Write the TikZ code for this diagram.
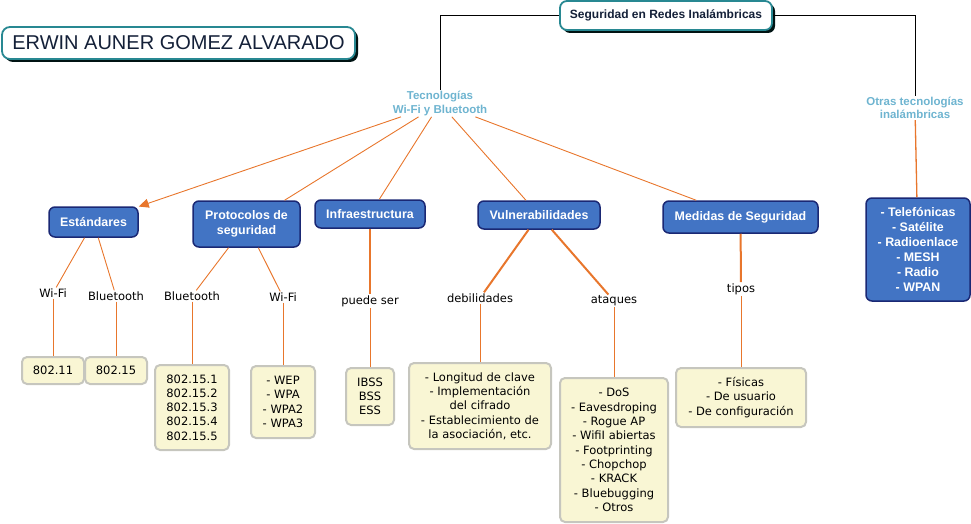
\documentclass[tikz,border=0pt]{standalone}
\usepackage{fontspec}
\setmainfont{Liberation Sans}
\newfontfamily\verd{DejaVu Sans}
\usetikzlibrary{arrows.meta,shadows}
\definecolor{naranja}{RGB}{232,118,44}
\definecolor{azul}{RGB}{66,116,196}
\definecolor{marino}{RGB}{26,40,116}
\definecolor{celeste}{RGB}{110,180,208}
\definecolor{crema}{RGB}{249,246,212}
\definecolor{gris}{RGB}{198,198,190}
\definecolor{verdeazul}{RGB}{40,136,146}
\definecolor{tinta}{RGB}{20,32,56}

\begin{document}
\begin{tikzpicture}[x=1pt,y=-1pt,
  caja/.style={draw=marino,line width=1.5pt,fill=azul,rounded corners=6pt,text=white,font=\bfseries\fontsize{12.4}{15}\selectfont,align=center,inner sep=2pt},
  hoja/.style={draw=gris,line width=2pt,fill=crema,rounded corners=5pt,font=\verd\fontsize{11.5}{14.3}\selectfont,align=center,inner sep=2pt},
  rel/.style={font=\verd\fontsize{11.5}{14}\selectfont,inner sep=1pt},
  tema/.style={text=celeste,font=\bfseries\fontsize{11.5}{13.5}\selectfont,align=center,inner sep=1pt},
  marco/.style={draw=verdeazul,line width=1.8pt,fill=white,text=tinta,drop shadow={shadow xshift=3pt,shadow yshift=-3pt,fill=black!85!teal,opacity=1}},
  fina/.style={draw=naranja,line width=0.9pt},
  gruesa/.style={draw=naranja,line width=2pt}]
  \useasboundingbox (0,0) rectangle (971,524);

  % titulo y raiz
  \node[marco,rounded corners=8pt,minimum width=353pt,minimum height=32pt,font=\fontsize{20}{24}\selectfont] (t0) at (178.5,43) {ERWIN AUNER GOMEZ ALVARADO};
  \node[marco,rounded corners=7pt,minimum width=212pt,minimum height=29pt,font=\bfseries\fontsize{12}{14}\selectfont] (c0) at (666,15.5) {Seguridad en Redes Inalámbricas};

  \node[tema] (c1) at (440,103.5) {Tecnologías\\Wi-Fi y Bluetooth};
  \node[tema] (c2) at (915,108) {Otras tecnologías\\inalámbricas};

  % cajas azules
  \node[caja,minimum width=89pt,minimum height=30pt] (b1) at (93.5,222) {Estándares};
  \node[caja,minimum width=107pt,minimum height=46pt] (b2) at (246.5,224) {Protocolos de\\seguridad};
  \node[caja,minimum width=110pt,minimum height=28pt] (b3) at (370,214) {Infraestructura};
  \node[caja,minimum width=122pt,minimum height=28pt] (b4) at (539,215) {Vulnerabilidades};
  \node[caja,minimum width=155pt,minimum height=32pt] (b5) at (740.5,217) {Medidas de Seguridad};
  \node[caja,minimum width=104pt,minimum height=103pt] (b6) at (918,249.5) {- Telefónicas\\- Satélite\\- Radioenlace\\- MESH\\- Radio\\- WPAN};

  % frases de enlace
  \node[rel] (l1) at (53,293) {Wi-Fi};
  \node[rel] (l2) at (116,296) {Bluetooth};
  \node[rel] (l3) at (192,296) {Bluetooth};
  \node[rel] (l4) at (283,297) {Wi-Fi};
  \node[rel] (l5) at (370,301) {puede ser};
  \node[rel] (l6) at (480,298) {debilidades};
  \node[rel] (l7) at (614,301) {ataques};
  \node[rel] (l8) at (741,289) {tipos};

  % hojas
  \node[hoja,minimum width=62pt,minimum height=27pt] (h1) at (53,370.5) {802.11};
  \node[hoja,minimum width=62pt,minimum height=27pt] (h2) at (116,370.5) {802.15};
  \node[hoja,minimum width=74pt,minimum height=85pt] (h3) at (192,407.5) {802.15.1\\802.15.2\\802.15.3\\802.15.4\\802.15.5};
  \node[hoja,minimum width=64pt,minimum height=72pt] (h4) at (283,402) {- WEP\\- WPA\\- WPA2\\- WPA3};
  \node[hoja,minimum width=48pt,minimum height=57pt] (h5) at (370,396.5) {IBSS\\BSS\\ESS};
  \node[hoja,minimum width=142pt,minimum height=86pt] (h6) at (480,406) {- Longitud de clave\\- Implementación\\del cifrado\\- Establecimiento de\\la asociación, etc.};
  \node[hoja,minimum width=108pt,minimum height=144pt] (h7) at (614,450) {- DoS\\- Eavesdroping\\- Rogue AP\\- WifiI abiertas\\- Footprinting\\- Chopchop\\- KRACK\\- Bluebugging\\- Otros};
  \node[hoja,minimum width=130pt,minimum height=59pt] (h8) at (741,397.5) {- Físicas\\- De usuario\\- De configuración};

  % conectores
  \draw[line width=0.9pt] (c0.west) -| (c1);
  \draw[line width=0.9pt] (c0.east) -| (c2);
  \draw[fina,-{Triangle[length=10pt,width=9pt]}] (c1) -- (b1);
  \draw[fina] (c1) -- (b2);
  \draw[fina] (c1) -- (b3);
  \draw[fina] (c1) -- (b4);
  \draw[fina] (c1) -- (b5);
  \draw[fina,line width=1.3pt] (c2) -- (b6);
  \draw[fina] (b1) -- (l1);
  \draw[fina] (b1) -- (l2);
  \draw[fina] (b2) -- (l3);
  \draw[fina] (b2) -- (l4);
  \draw[gruesa] (b3) -- (l5);
  \draw[gruesa] (b4) -- (l6);
  \draw[gruesa] (b4) -- (l7);
  \draw[gruesa] (b5) -- (l8);
  \draw[fina] (l1) -- (h1);
  \draw[fina] (l2) -- (h2);
  \draw[fina] (l3) -- (h3);
  \draw[fina] (l4) -- (h4);
  \draw[fina] (l5) -- (h5);
  \draw[fina] (l6) -- (h6);
  \draw[fina] (l7) -- (h7);
  \draw[fina] (l8) -- (h8);
\end{tikzpicture}
\end{document}
